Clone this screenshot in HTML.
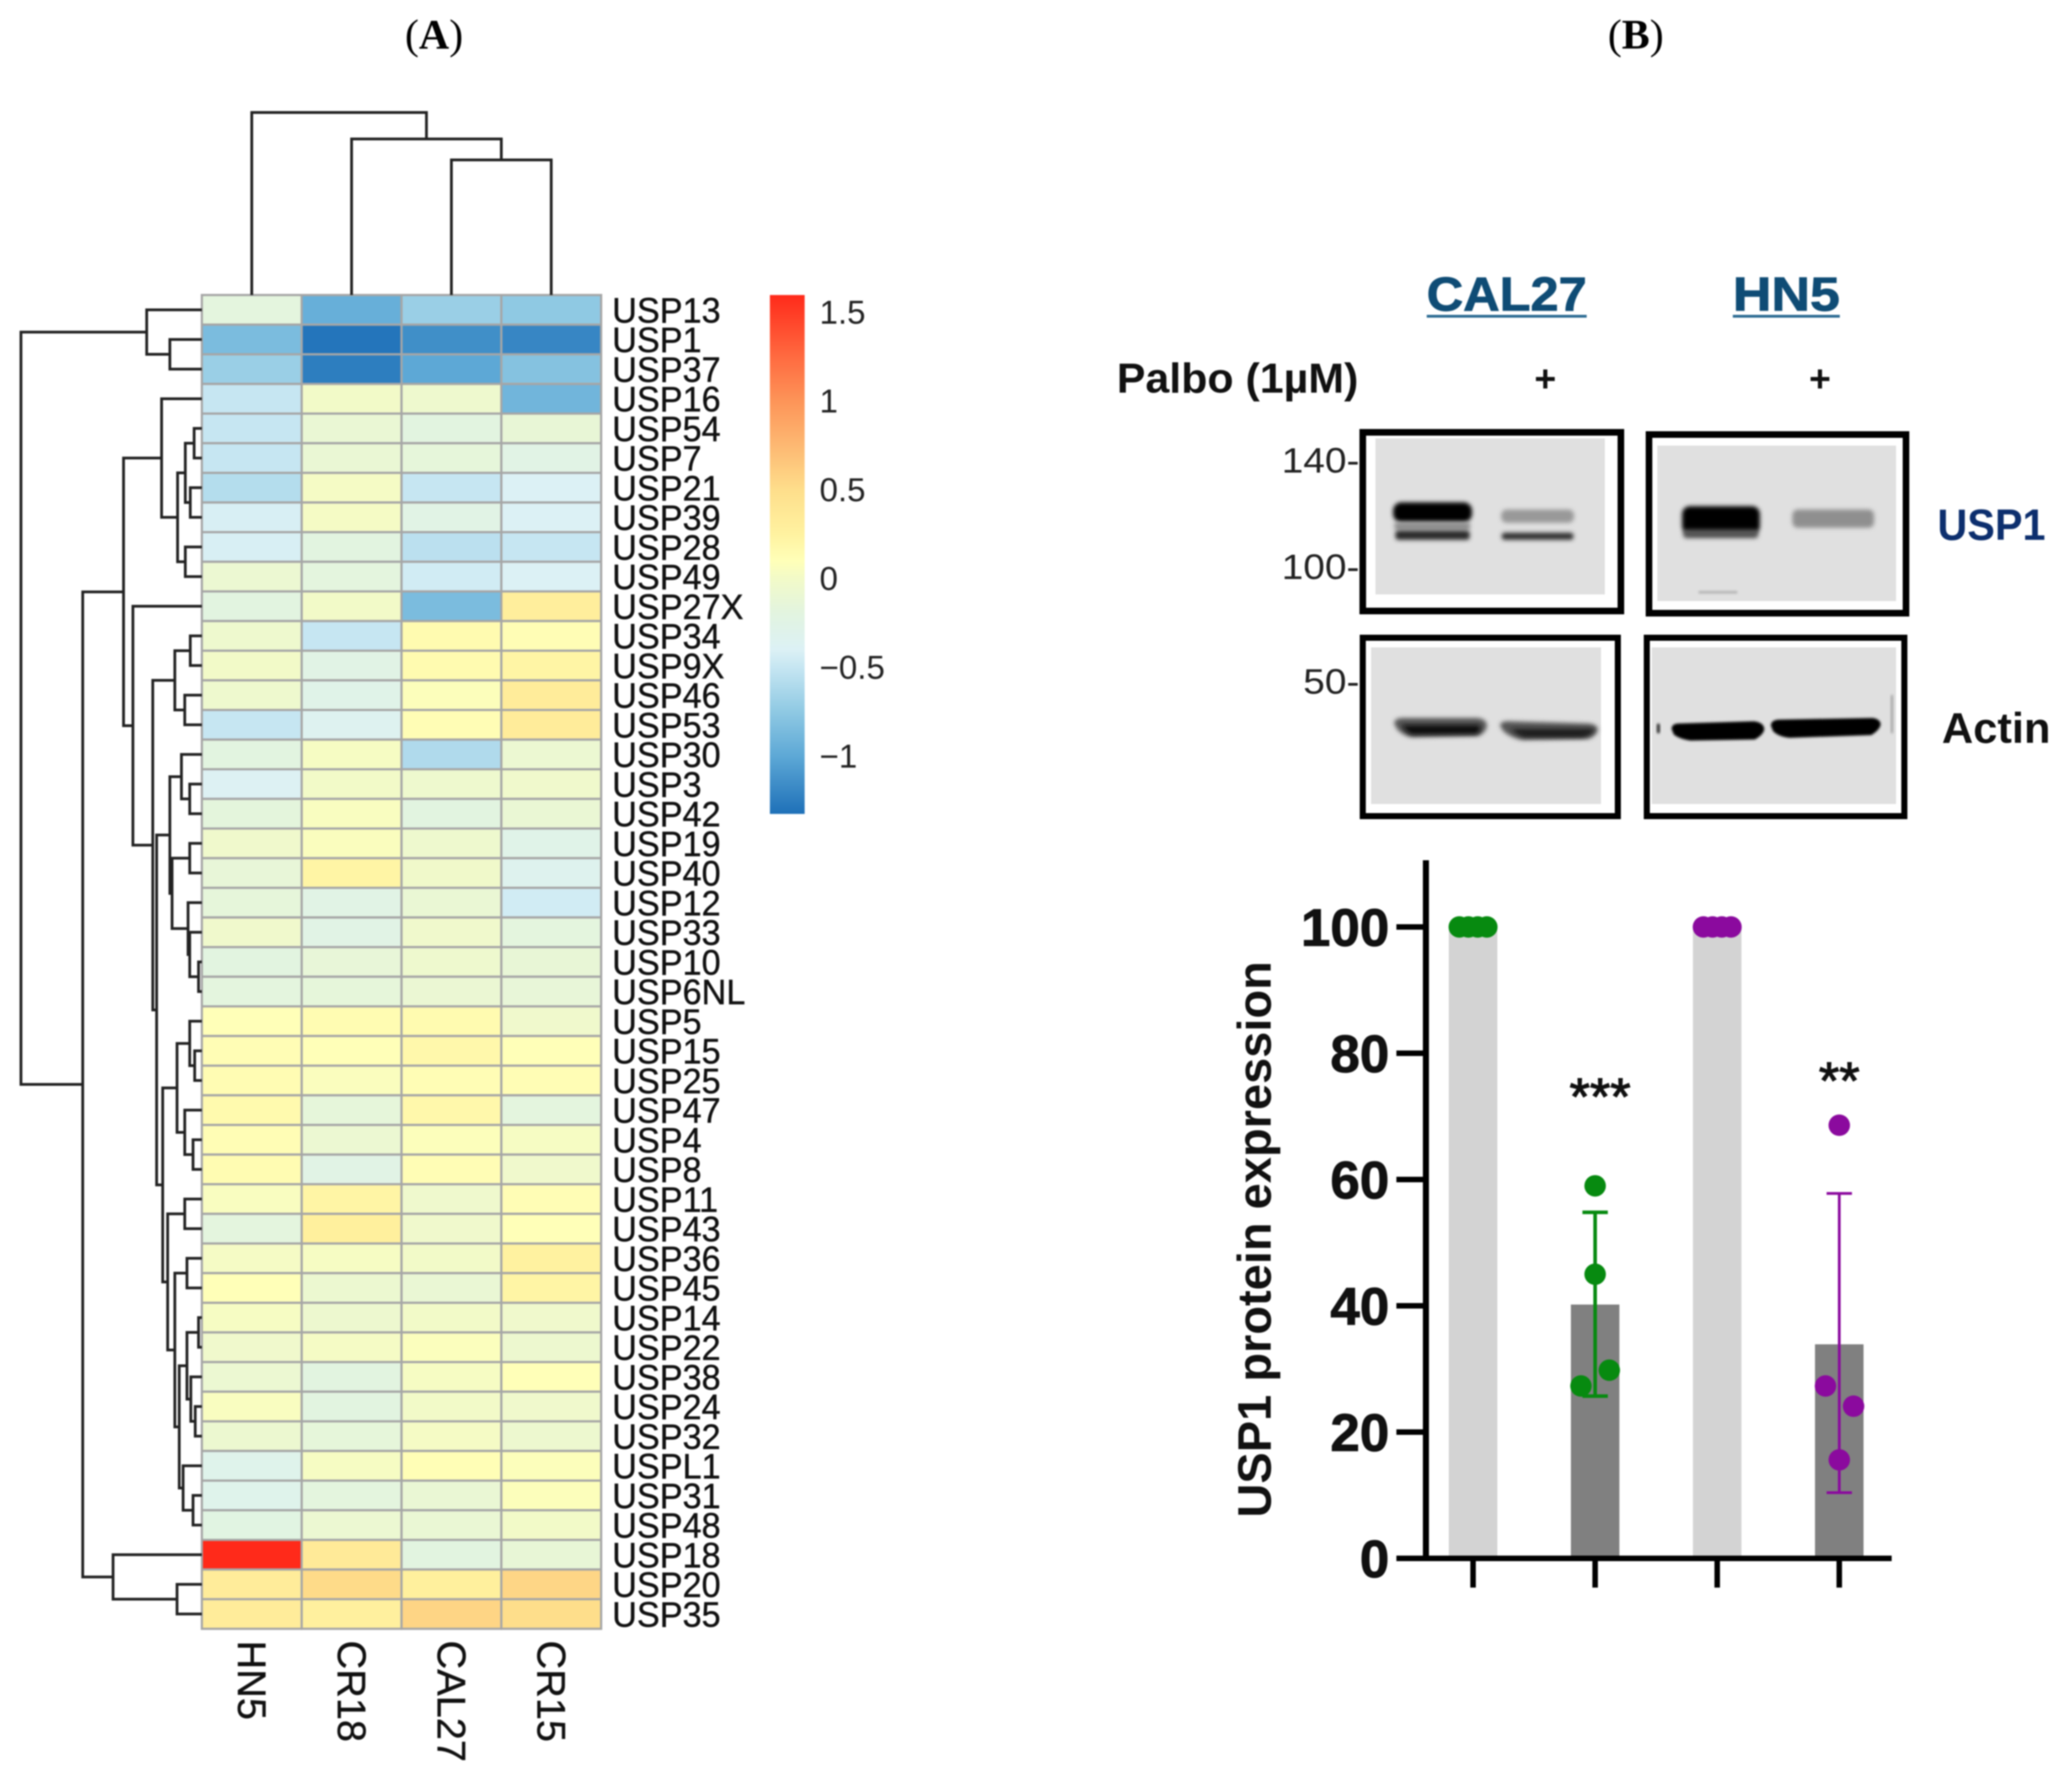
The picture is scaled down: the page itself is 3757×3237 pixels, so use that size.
<!DOCTYPE html>
<html lang="en">
<head>
<meta charset="utf-8">
<title>USP heatmap and USP1 protein expression</title>
<style>
html,body{margin:0;padding:0;background:#fff;}
svg{display:block;filter:blur(1.2px);}
text{font-family:"Liberation Sans",sans-serif;}
</style>
</head>
<body>
<svg id="figure" xmlns="http://www.w3.org/2000/svg" width="3757" height="3237" viewBox="0 0 3757 3237">
  <defs>
    <filter id="blur4" x="-30%" y="-80%" width="160%" height="260%"><feGaussianBlur stdDeviation="4"/></filter>
    <filter id="blur2" x="-30%" y="-80%" width="160%" height="260%"><feGaussianBlur stdDeviation="2.2"/></filter>
    <linearGradient id="colorbar-gradient" x1="0" y1="0" x2="0" y2="1"></linearGradient>
  </defs>
  <rect width="3757" height="3237" fill="#fff"/>

  <text x="787" y="88" text-anchor="middle" style="font-family:'Liberation Serif',serif" font-size="76" fill="#000">(<tspan font-weight="bold">A</tspan>)</text>
  <text x="2966" y="88" text-anchor="middle" style="font-family:'Liberation Serif',serif" font-size="76" fill="#000">(<tspan font-weight="bold">B</tspan>)</text>

  <g id="heatmap-panel"></g>
  <g id="colorbar"></g>

  <g>
    <text x="2587" y="563" font-size="86" font-weight="bold" fill="#0f4c75" stroke="#0f4c75" stroke-width="1.5" textLength="290" lengthAdjust="spacingAndGlyphs">CAL27</text>
    <rect x="2587" y="571" width="290" height="5" fill="#2a6a92"/>
    <text x="3142" y="563" font-size="86" font-weight="bold" fill="#0f4c75" stroke="#0f4c75" stroke-width="1.5" textLength="194" lengthAdjust="spacingAndGlyphs">HN5</text>
    <rect x="3142" y="571" width="194" height="5" fill="#2a6a92"/>
    <text x="2025" y="712" font-size="76" font-weight="bold" fill="#111" textLength="438" lengthAdjust="spacingAndGlyphs">Palbo (1µM)</text>
    <text x="2802" y="710" text-anchor="middle" font-size="68" font-weight="bold" fill="#111">+</text>
    <text x="3300" y="710" text-anchor="middle" font-size="68" font-weight="bold" fill="#111">+</text>

    <text x="2324" y="857" font-size="64" fill="#222" textLength="141" lengthAdjust="spacingAndGlyphs">140-</text>
    <text x="2324" y="1050" font-size="64" fill="#222" textLength="141" lengthAdjust="spacingAndGlyphs">100-</text>
    <text x="2363" y="1258" font-size="64" fill="#222" textLength="102" lengthAdjust="spacingAndGlyphs">50-</text>

    <g>
      <rect x="2471" y="784" width="468" height="324" fill="#fff" stroke="#000" stroke-width="12"/>
      <rect x="2494" y="795" width="416" height="283" fill="#e0e0e0"/>
      <rect x="2526" y="911" width="143" height="36" rx="15" fill="#000" filter="url(#blur4)"/>
      <rect x="2528" y="947" width="138" height="14" rx="6" fill="#8e8e8e" filter="url(#blur4)"/>
      <rect x="2530" y="962" width="135" height="17" rx="6" fill="#2c2c2c" filter="url(#blur4)"/>
      <rect x="2722" y="924" width="132" height="24" rx="10" fill="#999" filter="url(#blur4)"/>
      <rect x="2723" y="966" width="130" height="13" rx="5" fill="#333" filter="url(#blur4)"/>
    </g>
    <g>
      <rect x="2990" y="788" width="466" height="324" fill="#fff" stroke="#000" stroke-width="12"/>
      <rect x="3005" y="808" width="433" height="282" fill="#e0e0e0"/>
      <rect x="3050" y="918" width="141" height="50" rx="14" fill="#000" filter="url(#blur4)"/>
      <rect x="3052" y="960" width="136" height="16" rx="6" fill="#555" filter="url(#blur4)"/>
      <rect x="3250" y="924" width="148" height="33" rx="10" fill="#8f8f8f" filter="url(#blur4)"/>
      <rect x="3080" y="1072" width="70" height="4" fill="#aaa" filter="url(#blur2)"/>
    </g>
    <g>
      <rect x="2471" y="1156.5" width="462.5" height="323.5" fill="#fff" stroke="#000" stroke-width="11"/>
      <rect x="2486" y="1174" width="417" height="284" fill="#e0e0e0"/>
      <path d="M2528 1312Q2528 1302 2545 1302L2678 1302Q2696 1304 2696 1316Q2695 1328 2680 1335L2560 1337Q2545 1335 2533 1322Z" fill="#555" filter="url(#blur4)"/>
      <path d="M2542 1315L2682 1315Q2688 1325 2676 1331L2560 1332Q2548 1326 2542 1315Z" fill="#111" filter="url(#blur4)"/>
      <path d="M2720 1316Q2720 1308 2735 1308L2880 1312Q2898 1314 2897 1324Q2895 1334 2880 1340L2760 1342Q2740 1338 2726 1326Z" fill="#555" filter="url(#blur4)"/>
      <path d="M2740 1322L2890 1322Q2888 1332 2870 1337L2765 1337Q2750 1333 2740 1322Z" fill="#1a1a1a" filter="url(#blur4)"/>
    </g>
    <g>
      <rect x="2986" y="1156.5" width="467" height="323.5" fill="#fff" stroke="#000" stroke-width="11"/>
      <rect x="2995" y="1174" width="443" height="284" fill="#e0e0e0"/>
      <path d="M3031 1322Q3031 1312 3045 1312L3180 1308Q3198 1310 3199 1322Q3198 1332 3182 1341L3065 1343Q3045 1340 3035 1332Z" fill="#000" filter="url(#blur2)"/>
      <path d="M3211 1316Q3211 1306 3225 1305L3395 1302Q3410 1304 3410 1314Q3408 1324 3393 1333L3245 1338Q3225 1336 3215 1326Z" fill="#000" filter="url(#blur2)"/>
      <rect x="3004" y="1312" width="6" height="18" rx="3" fill="#333" filter="url(#blur2)"/>
      <rect x="3428" y="1260" width="5" height="70" rx="2.5" fill="#aaa" filter="url(#blur2)"/>
    </g>
    <text x="3513" y="979" font-size="80" font-weight="bold" fill="#0d2f6e" textLength="196" lengthAdjust="spacingAndGlyphs">USP1</text>
    <text x="3521" y="1347" font-size="78" font-weight="bold" fill="#111" textLength="197" lengthAdjust="spacingAndGlyphs">Actin</text>
  </g>

  <g id="bar-chart"></g>
</svg>

<script>
/* ---------- heatmap data ---------- */
const rowLabels = ["USP13","USP1","USP37","USP16","USP54","USP7","USP21","USP39","USP28","USP49","USP27X","USP34","USP9X","USP46","USP53","USP30","USP3","USP42","USP19","USP40","USP12","USP33","USP10","USP6NL","USP5","USP15","USP25","USP47","USP4","USP8","USP11","USP43","USP36","USP45","USP14","USP22","USP38","USP24","USP32","USPL1","USP31","USP48","USP18","USP20","USP35"];
const colLabels = ["HN5","CR18","CAL27","CR15"];
const heatValues = [
[-0.18,-0.95,-0.70,-0.75],
[-0.85,-1.30,-1.15,-1.20],
[-0.70,-1.25,-1.00,-0.80],
[-0.50,0.00,-0.05,-0.90],
[-0.50,-0.10,-0.20,-0.12],
[-0.50,-0.10,-0.15,-0.25],
[-0.58,0.02,-0.50,-0.40],
[-0.42,0.02,-0.25,-0.40],
[-0.42,-0.20,-0.55,-0.50],
[-0.08,-0.18,-0.45,-0.40],
[-0.20,0.00,-0.85,0.30],
[-0.05,-0.50,0.15,0.12],
[0.00,-0.25,0.15,0.22],
[-0.05,-0.28,0.08,0.32],
[-0.50,-0.35,0.12,0.32],
[-0.20,0.03,-0.60,-0.08],
[-0.38,0.00,-0.05,-0.03],
[-0.17,0.05,-0.20,-0.10],
[-0.03,0.06,-0.05,-0.28],
[-0.13,0.22,-0.02,-0.33],
[-0.15,-0.25,-0.10,-0.45],
[-0.03,-0.25,-0.03,-0.18],
[-0.20,-0.13,-0.05,-0.12],
[-0.18,-0.15,-0.09,-0.13],
[0.10,0.14,0.15,-0.03],
[0.12,0.10,0.18,0.10],
[0.13,0.06,0.12,0.12],
[0.16,-0.15,0.18,-0.18],
[0.12,-0.08,0.08,0.03],
[0.14,-0.25,0.12,-0.03],
[0.05,0.22,-0.04,0.12],
[-0.18,0.28,-0.03,0.10],
[0.02,0.03,0.00,0.25],
[0.10,-0.07,-0.10,0.22],
[0.03,-0.06,0.00,-0.03],
[-0.03,0.02,0.07,-0.06],
[-0.08,-0.20,0.03,0.10],
[0.05,-0.20,0.00,-0.03],
[-0.07,-0.15,0.02,-0.06],
[-0.30,0.03,0.11,0.08],
[-0.30,-0.18,-0.10,0.08],
[-0.22,-0.08,-0.10,0.00],
[1.60,0.35,-0.20,-0.12],
[0.32,0.52,0.28,0.55],
[0.32,0.27,0.56,0.50]
];
/* dendrograms: [merge height, child, child]; leaves are labels */
const rowTree = [328,
  [100,"USP13",[58,"USP1","USP37"]],
  [216,
    [142,
      [73,"USP16",[44,[30,[14,"USP54","USP7"],[21,"USP21","USP39"]],[30,"USP28","USP49"]]],
      [125,"USP27X",
        [89,
          [49,[21,"USP34","USP9X"],[31,"USP46","USP53"]],
          [82,
            [58,
              [37,"USP30",[22,"USP3","USP42"]],
              [54,[22,"USP19","USP40"],[25,"USP12",[22,"USP33",[6,"USP10","USP6NL"]]]]
            ],
            [71,
              [45,[22,"USP5",[13,"USP15","USP25"]],[31,"USP47",[16,"USP4","USP8"]]],
              [62,
                [31,"USP11","USP43"],
                [49,
                  [27,"USP36","USP45"],
                  [41,
                    [27,[6,"USP14","USP22"],[20,"USP38",[12,"USP24","USP32"]]],
                    [34,"USPL1",[16,"USP31","USP48"]]
                  ]
                ]
              ]
            ]
          ]
        ]
      ]
    ],
    [161,"USP18",[45,"USP20","USP35"]]
  ]
];
const colTree = [331,"HN5",[283,"CR18",[245,"CAL27","CR15"]]];
const colorbarTicks = [1.5,1,0.5,0,-0.5,-1];
const colorbarTickLabels = ["1.5","1","0.5","0","\u22120.5","\u22121"];
const colormapValues = [1.6,1.25,1.0,0.75,0.5,0.25,0.1,0,-0.2,-0.4,-0.5,-0.75,-1,-1.33];
const colormapColors = ["#ff2a1a","#ff6a40","#fd9458","#fdb872","#fede8b","#fff2a0","#ffffb8","#f2fac8","#e2f4e0","#dcf1f5","#c6e6f2","#8fc9e3","#5da8d6","#1e70b8"];

/* ---------- bar chart data ---------- */
const barGroups = ["CAL27 control","CAL27 palbociclib","HN5 control","HN5 palbociclib"];
const barMeans = [100,40.2,100,33.9];
const errorUpper = [null,54.8,null,57.8];
const errorLower = [null,25.7,null,10.4];
const dotValues = [[100,100,100,100],[59,45,29.8,27.3],[100,100,100,100],[68.6,27.3,24.1,15.6]];
const dotSlots = [[-1.04,-0.35,0.35,1.04],[0,0,1.07,-1.07],[-1.04,-0.35,0.35,1.04],[0,-1.04,1.08,0]];
const significance = ["","***","","**"];
const significanceLevel = [null,81.5,null,84];
const yTicks = [0,20,40,60,80,100];
const yTickLabels = ["0","20","40","60","80","100"];

const NS = "http://www.w3.org/2000/svg";
function svgEl(tag, attrs, parent) {
  const el = document.createElementNS(NS, tag);
  for (const k in attrs) el.setAttribute(k, attrs[k]);
  parent.appendChild(el);
  return el;
}

/* ---------- heatmap scales ---------- */
const heatLeft = 366, heatTop = 535, cellW = 181, cellH = 53.75;
const rowY = i => heatTop + (i + 0.5) * cellH;
const colX = j => heatLeft + (j + 0.5) * cellW;
const barScaleY = v => 1049 - 322 * v;

function hexToRgb(h) { return [1,3,5].map(i => parseInt(h.substr(i,2),16)); }
function heatColor(v) {
  const vs = colormapValues, cs = colormapColors;
  if (v >= vs[0]) return cs[0];
  if (v <= vs[vs.length-1]) return cs[cs.length-1];
  for (let i = 0; i < vs.length-1; i++) {
    if (v <= vs[i] && v >= vs[i+1]) {
      const t = (vs[i]-v)/(vs[i]-vs[i+1]);
      const a = hexToRgb(cs[i]), b = hexToRgb(cs[i+1]);
      return "rgb(" + a.map((x,k) => Math.round(x+(b[k]-x)*t)).join(",") + ")";
    }
  }
  return cs[0];
}

const heatPanel = document.getElementById("heatmap-panel");
const cellsGroup = svgEl("g", {}, heatPanel);


heatValues.forEach((row, i) => {
  row.forEach((v, j) => {
    const cell = svgEl("rect", {
      x: heatLeft + j*cellW, y: heatTop + i*cellH, width: cellW, height: cellH,
      fill: heatColor(v), stroke: "#a6a6a6", "stroke-width": 4
    }, cellsGroup);
    
    
  });
  const label = svgEl("text", {transform: "translate(1110," + (rowY(i) + 23) + ") scale(0.97,1)", "font-size": 64, fill: "#111", stroke: "#111", "stroke-width": 0.7}, heatPanel);
  label.textContent = rowLabels[i];
  
  
});
colLabels.forEach((name, j) => {
  const label = svgEl("text", {transform: "translate(" + (colX(j)-25) + ",2975) rotate(90)", "font-size": 72, fill: "#111", stroke: "#111", "stroke-width": 0.7}, heatPanel);
  label.textContent = name;
  
  
});

/* ---------- dendrograms ---------- */
function drawRowNode(node, group) {
  if (typeof node === "string") return {x: heatLeft, y: rowY(rowLabels.indexOf(node))};
  const x = heatLeft - node[0];
  const a = drawRowNode(node[1], group), b = drawRowNode(node[2], group);
  const branch = svgEl("path", {d: "M"+a.x+" "+a.y+"H"+x+"V"+b.y+"H"+b.x, fill: "none", stroke: "#222", "stroke-width": 5}, group);
  
  
  return {x: x, y: (a.y + b.y) / 2};
}
function drawColNode(node, group) {
  if (typeof node === "string") return {x: colX(colLabels.indexOf(node)), y: heatTop};
  const y = heatTop - node[0];
  const a = drawColNode(node[1], group), b = drawColNode(node[2], group);
  const branch = svgEl("path", {d: "M"+a.x+" "+a.y+"V"+y+"H"+b.x+"V"+b.y, fill: "none", stroke: "#222", "stroke-width": 5}, group);
  
  
  return {x: (a.x + b.x) / 2, y: y};
}
const rowDendro = svgEl("g", {}, heatPanel);


drawRowNode(rowTree, rowDendro);
const colDendro = svgEl("g", {}, heatPanel);


drawColNode(colTree, colDendro);

/* ---------- colorbar ---------- */
const cbTop = 535, cbBottom = 1476;
const grad = document.getElementById("colorbar-gradient");
colormapValues.forEach((v, i) => {
  svgEl("stop", {offset: (barScaleY(v) - cbTop) / (cbBottom - cbTop), "stop-color": colormapColors[i]}, grad);
});
const colorbar = document.getElementById("colorbar");
const cbRect = svgEl("rect", {x: 1396, y: cbTop, width: 63, height: cbBottom - cbTop, fill: "url(#colorbar-gradient)"}, colorbar);


colorbarTicks.forEach((v, i) => {
  const t = svgEl("text", {x: 1486, y: barScaleY(v) + 21, "font-size": 60, fill: "#222"}, colorbar);
  t.textContent = colorbarTickLabels[i];
  
  
});

/* ---------- bar chart ---------- */
const chart = document.getElementById("bar-chart");
const y0 = 2826, pxPerUnit = 11.45;
const yScale = v => y0 - v * pxPerUnit;
const xScale = i => 2671 + i * 221.33;
const barW = 88, slotPx = 24, dotR = 19.5;
const groupColors = ["#078a10","#078a10","#8b0a9e","#8b0a9e"];
const barColors = ["#d3d3d3","#808080","#d3d3d3","#808080"];

barGroups.forEach((name, i) => {
  const bar = svgEl("rect", {x: xScale(i)-barW/2, y: yScale(barMeans[i]), width: barW, height: y0 - yScale(barMeans[i]), fill: barColors[i]}, chart);
  
  
});

const axisY = svgEl("rect", {x: 2580, y: 1560, width: 11, height: y0 + 5 - 1560, fill: "#000"}, chart);


const axisX = svgEl("rect", {x: 2532, y: y0 - 5, width: 898, height: 10, fill: "#000"}, chart);



yTicks.forEach((v, i) => {
  const tick = svgEl("rect", {x: 2532, y: yScale(v) - 5, width: 50, height: 10, fill: "#000"}, chart);
  
  
  const label = svgEl("text", {x: 2519, y: yScale(v) + 34, "text-anchor": "end", "font-size": 96, "font-weight": "bold", fill: "#111", stroke: "#111", "stroke-width": 1.5}, chart);
  label.textContent = yTickLabels[i];
  
  
});
barGroups.forEach((name, i) => {
  const tick = svgEl("rect", {x: xScale(i) - 5, y: y0, width: 10, height: 53, fill: "#000"}, chart);
  
  
});

barGroups.forEach((name, i) => {
  const cx = xScale(i);
  if (errorUpper[i] !== null) {
    const w = i === 1 ? 6.5 : 5;
    const err = svgEl("path", {
      d: "M"+cx+" "+yScale(errorUpper[i])+"V"+yScale(errorLower[i])+"M"+(cx-23)+" "+yScale(errorUpper[i])+"H"+(cx+23)+"M"+(cx-23)+" "+yScale(errorLower[i])+"H"+(cx+23),
      fill: "none", stroke: groupColors[i], "stroke-width": w
    }, chart);
    
    
  }
  dotValues[i].forEach((v, k) => {
    const dot = svgEl("circle", {cx: cx + dotSlots[i][k]*slotPx, cy: yScale(v), r: dotR, fill: groupColors[i]}, chart);
    
    
  });
  if (significance[i]) {
    const star = svgEl("text", {x: cx + (i === 1 ? 9 : 0), y: yScale(significanceLevel[i]) + 128, "text-anchor": "middle", "font-size": 95, fill: "#111", stroke: "#111", "stroke-width": 2}, chart);
    star.textContent = significance[i];
    
    
  }
});

const yTitle = svgEl("text", {transform: "translate(2304,2752) rotate(-90)", "font-size": 85, "font-weight": "bold", fill: "#111", textLength: 1009, lengthAdjust: "spacingAndGlyphs"}, chart);
yTitle.textContent = "USP1 protein expression";


</script>
</body>
</html>
